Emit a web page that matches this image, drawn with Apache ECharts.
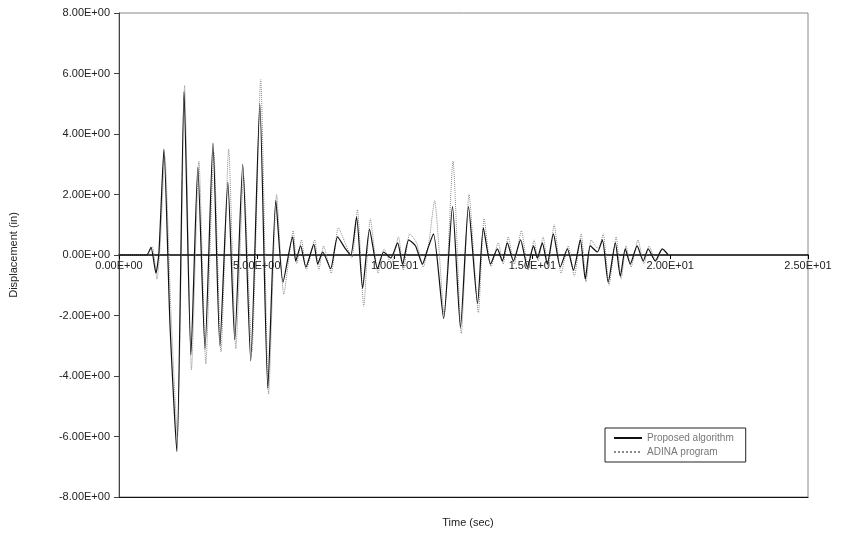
<!DOCTYPE html>
<html>
<head>
<meta charset="utf-8">
<script src="https://cdn.jsdelivr.net/npm/echarts@6/dist/echarts.min.js"></script>
<style>
  html, body { margin: 0; padding: 0; background: #fff; }
  #chart { width: 845px; height: 533px; }
</style>
</head>
<body>
<div id="chart"></div>
<script>
// time (sec) / displacement (in) at the local peaks
const timeA = [0, 1.00, 1.16, 1.34, 1.45, 1.63, 1.85, 2.10, 2.36, 2.61, 2.86, 3.12, 3.41, 3.66, 3.95, 4.20, 4.49, 4.78, 5.11, 5.40, 5.69, 5.95,
  6.30, 6.41, 6.59, 6.78, 7.07, 7.21, 7.39, 7.68, 7.93, 8.22, 8.41, 8.62, 8.84, 9.09, 9.38, 9.60, 9.86, 10.11, 10.29, 10.51, 10.76, 11.01,
  11.20, 11.41, 11.78, 12.10, 12.39, 12.68, 13.01, 13.22, 13.48, 13.73, 13.91, 14.09, 14.31, 14.57, 14.82, 15.04, 15.18, 15.36, 15.54,
  15.76, 16.01, 16.27, 16.49, 16.74, 16.92, 17.10, 17.36, 17.54, 17.75, 18.01, 18.19, 18.37, 18.55, 18.80, 19.02, 19.20, 19.46, 19.71, 19.93]
const dispA = [0, 0, 0.25, -0.6, 0.1, 3.5, -2.3, -6.5, 5.4, -3.3, 2.9, -3.1, 3.7, -3.0, 2.4, -2.8, 3.0, -3.5, 5.0, -4.4, 1.8, -0.9,
  0.6, -0.2, 0.3, -0.4, 0.35, -0.3, 0.1, -0.45, 0.6, 0.2, 0.0, 1.25, -1.1, 0.85, -0.45, 0.1, -0.1, 0.4, -0.3, 0.5, 0.3, -0.3,
  0.2, 0.7, -2.1, 1.6, -2.4, 1.6, -1.6, 0.9, -0.3, 0.2, -0.2, 0.4, -0.2, 0.5, -0.4, 0.3, -0.1, 0.4, -0.3,
  0.7, -0.4, 0.2, -0.5, 0.5, -0.8, 0.3, 0.1, 0.5, -0.9, 0.4, -0.7, 0.2, -0.3, 0.3, -0.2, 0.2, -0.2, 0.2, 0]

const timeB = [0, 1.00, 1.20, 1.38, 1.50, 1.66, 1.88, 2.12, 2.38, 2.63, 2.90, 3.15, 3.44, 3.70, 3.98, 4.24, 4.52, 4.82, 5.14, 5.43, 5.72, 5.98,
  6.32, 6.45, 6.62, 6.80, 7.10, 7.25, 7.42, 7.70, 7.96, 8.25, 8.45, 8.65, 8.88, 9.12, 9.40, 9.62, 9.88, 10.14, 10.32, 10.55, 10.80, 11.04,
  11.24, 11.45, 11.80, 12.12, 12.42, 12.70, 13.04, 13.25, 13.50, 13.76, 13.94, 14.12, 14.34, 14.60, 14.85, 15.06, 15.21, 15.39, 15.57,
  15.79, 16.04, 16.30, 16.52, 16.77, 16.95, 17.13, 17.39, 17.57, 17.78, 18.04, 18.22, 18.40, 18.58, 18.83, 19.05, 19.23, 19.49, 19.74, 19.95]
const dispB = [0, 0, 0.3, -0.8, 0.4, 3.3, -1.8, -6.0, 5.6, -3.8, 3.1, -3.6, 3.4, -3.2, 3.5, -3.1, 2.6, -3.2, 5.8, -4.6, 2.0, -1.3,
  0.8, -0.3, 0.5, -0.5, 0.5, -0.5, 0.3, -0.6, 0.9, 0.3, -0.1, 1.5, -1.7, 1.2, -0.6, 0.2, -0.3, 0.6, -0.5, 0.7, 0.4, -0.4,
  0.4, 1.8, -2.0, 3.1, -2.6, 2.0, -1.9, 1.2, -0.4, 0.4, -0.3, 0.6, -0.3, 0.8, -0.5, 0.5, -0.2, 0.6, -0.4,
  1.0, -0.6, 0.3, -0.7, 0.7, -0.9, 0.5, 0.2, 0.7, -1.0, 0.6, -0.8, 0.3, -0.4, 0.5, -0.3, 0.3, -0.2, 0.2, 0]

const seriesNames = ['Proposed algorithm', 'ADINA program']
const xTicks = [0, 25, 5]   // min, max, step
const yTicks = [-8, 8, 2]

// Excel style scientific labels: 2.50E+01
function sci(v) {
  if (v === 0) return '0.00E+00'
  const e = Math.floor(Math.log10(Math.abs(v)))
  const m = v / Math.pow(10, e)
  return m.toFixed(2) + 'E' + (e < 0 ? '-' : '+') + String(Math.abs(e)).padStart(2, '0')
}

function pairs(ts, vs) {
  return ts.map((t, i) => [t, vs[i]])
}

const font = 'Liberation Sans, Arial, sans-serif'
const gridTop = 13
const gridBottom = 36
const plotH = 533 - gridTop - gridBottom

const chart = echarts.init(document.getElementById('chart'))
chart.setOption({
  animation: false,
  textStyle: { fontFamily: font },
  title: {
    text: 'Time (sec)',
    left: 463,
    top: 512,
    textAlign: 'center',
    textStyle: { fontSize: 11, fontWeight: 'normal', color: '#222', fontFamily: font }
  },
  legend: {
    data: seriesNames,
    orient: 'vertical',
    left: 605,
    top: 428,
    borderColor: '#222',
    borderWidth: 1,
    padding: [5, 12, 5, 8],
    itemWidth: 28,
    itemHeight: 8,
    itemGap: 4,
    itemStyle: { opacity: 0 },
    textStyle: { fontSize: 10, color: '#777' }
  },
  grid: {
    left: 118,
    right: 37,
    top: gridTop,
    bottom: gridBottom,
    show: true,
    borderColor: '#888',
    borderWidth: 1
  },
  xAxis: [{
    type: 'value',
    min: xTicks[0],
    max: xTicks[1],
    interval: xTicks[2],
    // axis (line, ticks, labels) sits on the zero line
    offset: -plotH / 2,
    axisLine: { onZero: false, lineStyle: { color: '#000', width: 1.5 } },
    axisTick: { show: true, length: 4, lineStyle: { color: '#000' } },
    splitLine: { show: false },
    axisLabel: { formatter: sci, fontSize: 11, color: '#222', margin: 5 }
  }, {
    // plain black frame line along the bottom
    type: 'value',
    position: 'bottom',
    min: xTicks[0],
    max: xTicks[1],
    axisLine: { onZero: false, lineStyle: { color: '#111', width: 1.2 } },
    axisTick: { show: false },
    axisLabel: { show: false },
    splitLine: { show: false }
  }],
  yAxis: {
    type: 'value',
    min: yTicks[0],
    max: yTicks[1],
    interval: yTicks[2],
    name: 'Displacement (in)',
    nameLocation: 'middle',
    nameGap: 100,
    nameTextStyle: { fontSize: 11, color: '#222' },
    axisLine: { show: true, lineStyle: { color: '#444' } },
    axisTick: { show: true, length: 5, lineStyle: { color: '#444' } },
    splitLine: { show: false },
    axisLabel: { formatter: sci, fontSize: 11, color: '#222', margin: 9 }
  },
  series: [{
    name: seriesNames[1],
    type: 'line',
    data: pairs(timeB, dispB),
    symbol: 'none',
    smooth: 0.2,
    lineStyle: { color: '#8a8a8a', width: 1, type: 'dotted' },
    itemStyle: { color: '#8a8a8a' }
  }, {
    name: seriesNames[0],
    type: 'line',
    data: pairs(timeA, dispA),
    symbol: 'none',
    smooth: 0.2,
    lineStyle: { color: '#111', width: 1.2 },
    itemStyle: { color: '#111' }
  }]
})
</script>
</body>
</html>
